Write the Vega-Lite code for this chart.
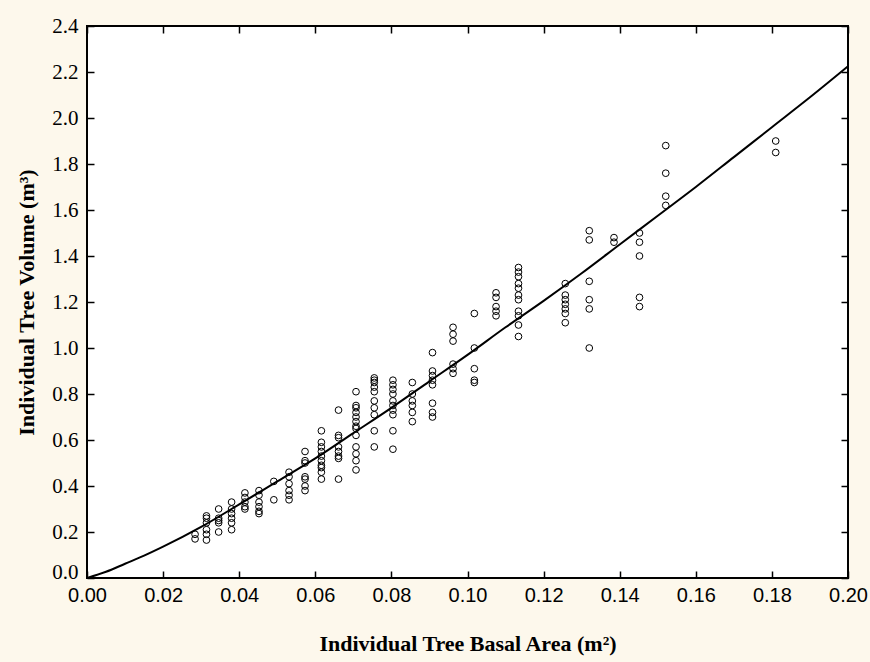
{
  "$schema": "https://vega.github.io/schema/vega-lite/v6.json",
  "width": 761,
  "height": 552,
  "autosize": "none",
  "padding": {"left": 87, "top": 26, "right": 22, "bottom": 84},
  "background": "#fdf8ec",
  "config": {
    "view": {"fill": "white", "stroke": "black", "strokeWidth": 2},
    "axis": {"domain": false, "grid": false, "tickColor": "black", "tickWidth": 1.5, "tickSize": -7, "labelColor": "black", "titleColor": "black"}
  },
  "datasets": {
    "trees": [
      {"ba":0.0284,"vol":0.17},{"ba":0.0284,"vol":0.19},
      {"ba":0.0314,"vol":0.27},{"ba":0.0314,"vol":0.26},{"ba":0.0314,"vol":0.24},{"ba":0.0314,"vol":0.21},{"ba":0.0314,"vol":0.19},{"ba":0.0314,"vol":0.165},
      {"ba":0.0346,"vol":0.30},{"ba":0.0346,"vol":0.26},{"ba":0.0346,"vol":0.25},{"ba":0.0346,"vol":0.24},{"ba":0.0346,"vol":0.20},
      {"ba":0.0380,"vol":0.33},{"ba":0.0380,"vol":0.30},{"ba":0.0380,"vol":0.28},{"ba":0.0380,"vol":0.26},{"ba":0.0380,"vol":0.24},{"ba":0.0380,"vol":0.21},
      {"ba":0.0415,"vol":0.37},{"ba":0.0415,"vol":0.35},{"ba":0.0415,"vol":0.33},{"ba":0.0415,"vol":0.31},{"ba":0.0415,"vol":0.30},
      {"ba":0.0452,"vol":0.38},{"ba":0.0452,"vol":0.36},{"ba":0.0452,"vol":0.33},{"ba":0.0452,"vol":0.31},{"ba":0.0452,"vol":0.29},{"ba":0.0452,"vol":0.28},
      {"ba":0.0491,"vol":0.42},{"ba":0.0491,"vol":0.34},
      {"ba":0.0531,"vol":0.46},{"ba":0.0531,"vol":0.44},{"ba":0.0531,"vol":0.41},{"ba":0.0531,"vol":0.38},{"ba":0.0531,"vol":0.36},{"ba":0.0531,"vol":0.34},
      {"ba":0.0573,"vol":0.55},{"ba":0.0573,"vol":0.51},{"ba":0.0573,"vol":0.50},{"ba":0.0573,"vol":0.44},{"ba":0.0573,"vol":0.43},{"ba":0.0573,"vol":0.40},{"ba":0.0573,"vol":0.38},
      {"ba":0.0616,"vol":0.64},{"ba":0.0616,"vol":0.59},{"ba":0.0616,"vol":0.57},{"ba":0.0616,"vol":0.55},{"ba":0.0616,"vol":0.53},{"ba":0.0616,"vol":0.51},{"ba":0.0616,"vol":0.49},{"ba":0.0616,"vol":0.48},{"ba":0.0616,"vol":0.46},{"ba":0.0616,"vol":0.43},
      {"ba":0.0661,"vol":0.73},{"ba":0.0661,"vol":0.62},{"ba":0.0661,"vol":0.61},{"ba":0.0661,"vol":0.57},{"ba":0.0661,"vol":0.55},{"ba":0.0661,"vol":0.53},{"ba":0.0661,"vol":0.52},{"ba":0.0661,"vol":0.43},
      {"ba":0.0707,"vol":0.81},{"ba":0.0707,"vol":0.75},{"ba":0.0707,"vol":0.74},{"ba":0.0707,"vol":0.72},{"ba":0.0707,"vol":0.70},{"ba":0.0707,"vol":0.68},{"ba":0.0707,"vol":0.66},{"ba":0.0707,"vol":0.65},{"ba":0.0707,"vol":0.62},{"ba":0.0707,"vol":0.57},{"ba":0.0707,"vol":0.54},{"ba":0.0707,"vol":0.51},{"ba":0.0707,"vol":0.47},
      {"ba":0.0755,"vol":0.87},{"ba":0.0755,"vol":0.86},{"ba":0.0755,"vol":0.85},{"ba":0.0755,"vol":0.83},{"ba":0.0755,"vol":0.81},{"ba":0.0755,"vol":0.77},{"ba":0.0755,"vol":0.74},{"ba":0.0755,"vol":0.71},{"ba":0.0755,"vol":0.64},{"ba":0.0755,"vol":0.57},
      {"ba":0.0804,"vol":0.86},{"ba":0.0804,"vol":0.84},{"ba":0.0804,"vol":0.82},{"ba":0.0804,"vol":0.80},{"ba":0.0804,"vol":0.77},{"ba":0.0804,"vol":0.75},{"ba":0.0804,"vol":0.73},{"ba":0.0804,"vol":0.71},{"ba":0.0804,"vol":0.64},{"ba":0.0804,"vol":0.56},
      {"ba":0.0855,"vol":0.85},{"ba":0.0855,"vol":0.80},{"ba":0.0855,"vol":0.77},{"ba":0.0855,"vol":0.75},{"ba":0.0855,"vol":0.72},{"ba":0.0855,"vol":0.68},
      {"ba":0.0908,"vol":0.98},{"ba":0.0908,"vol":0.90},{"ba":0.0908,"vol":0.88},{"ba":0.0908,"vol":0.86},{"ba":0.0908,"vol":0.84},{"ba":0.0908,"vol":0.76},{"ba":0.0908,"vol":0.72},{"ba":0.0908,"vol":0.70},
      {"ba":0.0962,"vol":1.09},{"ba":0.0962,"vol":1.06},{"ba":0.0962,"vol":1.03},{"ba":0.0962,"vol":0.93},{"ba":0.0962,"vol":0.91},{"ba":0.0962,"vol":0.89},
      {"ba":0.1018,"vol":1.15},{"ba":0.1018,"vol":1.00},{"ba":0.1018,"vol":0.91},{"ba":0.1018,"vol":0.86},{"ba":0.1018,"vol":0.85},
      {"ba":0.1075,"vol":1.24},{"ba":0.1075,"vol":1.22},{"ba":0.1075,"vol":1.18},{"ba":0.1075,"vol":1.16},{"ba":0.1075,"vol":1.14},
      {"ba":0.1134,"vol":1.35},{"ba":0.1134,"vol":1.33},{"ba":0.1134,"vol":1.31},{"ba":0.1134,"vol":1.28},{"ba":0.1134,"vol":1.26},{"ba":0.1134,"vol":1.23},{"ba":0.1134,"vol":1.21},{"ba":0.1134,"vol":1.16},{"ba":0.1134,"vol":1.14},{"ba":0.1134,"vol":1.10},{"ba":0.1134,"vol":1.05},
      {"ba":0.1257,"vol":1.28},{"ba":0.1257,"vol":1.23},{"ba":0.1257,"vol":1.21},{"ba":0.1257,"vol":1.19},{"ba":0.1257,"vol":1.17},{"ba":0.1257,"vol":1.15},{"ba":0.1257,"vol":1.11},
      {"ba":0.1320,"vol":1.51},{"ba":0.1320,"vol":1.47},{"ba":0.1320,"vol":1.29},{"ba":0.1320,"vol":1.21},{"ba":0.1320,"vol":1.17},{"ba":0.1320,"vol":1.00},
      {"ba":0.1385,"vol":1.48},{"ba":0.1385,"vol":1.46},
      {"ba":0.1452,"vol":1.50},{"ba":0.1452,"vol":1.46},{"ba":0.1452,"vol":1.40},{"ba":0.1452,"vol":1.22},{"ba":0.1452,"vol":1.18},
      {"ba":0.1521,"vol":1.88},{"ba":0.1521,"vol":1.76},{"ba":0.1521,"vol":1.66},{"ba":0.1521,"vol":1.62},
      {"ba":0.1810,"vol":1.90},{"ba":0.1810,"vol":1.85}
    ],
    "fit": [
      {"ba":0.00,"vol":0.00},{"ba":0.005,"vol":0.027},{"ba":0.01,"vol":0.062},{"ba":0.015,"vol":0.097},{"ba":0.02,"vol":0.136},{"ba":0.03,"vol":0.222},{"ba":0.04,"vol":0.32},
      {"ba":0.05,"vol":0.42},{"ba":0.06,"vol":0.52},{"ba":0.07,"vol":0.63},{"ba":0.08,"vol":0.74},{"ba":0.09,"vol":0.855},
      {"ba":0.10,"vol":0.97},{"ba":0.11,"vol":1.09},{"ba":0.12,"vol":1.205},{"ba":0.13,"vol":1.325},{"ba":0.14,"vol":1.45},
      {"ba":0.15,"vol":1.575},{"ba":0.16,"vol":1.70},{"ba":0.17,"vol":1.83},{"ba":0.18,"vol":1.96},{"ba":0.19,"vol":2.09},{"ba":0.20,"vol":2.225}
    ]
  },
  "resolve": {"axis": {"x": "independent", "y": "independent"}},
  "layer": [
    {
      "data": {"name": "fit"},
      "mark": {"type": "line", "color": "black", "strokeWidth": 2, "clip": true, "interpolate": "monotone"},
      "encoding": {
        "x": {"field": "ba", "type": "quantitative", "scale": {"domain": [0, 0.2], "nice": false, "zero": false},
              "axis": {"orient": "top", "labels": false, "title": null, "values": [0,0.02,0.04,0.06,0.08,0.1,0.12,0.14,0.16,0.18,0.2]}},
        "y": {"field": "vol", "type": "quantitative", "scale": {"domain": [0, 2.4], "nice": false, "zero": false},
              "axis": {"orient": "right", "labels": false, "title": null, "values": [0,0.2,0.4,0.6,0.8,1,1.2,1.4,1.6,1.8,2,2.2,2.4]}}
      }
    },
    {
      "data": {"name": "trees"},
      "mark": {"type": "point", "shape": "circle", "filled": false, "stroke": "black", "strokeWidth": 1, "size": 45, "opacity": 1},
      "encoding": {
        "x": {"field": "ba", "type": "quantitative",
              "axis": {"orient": "bottom", "format": ".2f", "values": [0,0.02,0.04,0.06,0.08,0.1,0.12,0.14,0.16,0.18,0.2],
                       "labelFont": "Liberation Sans", "labelFontSize": 20, "labelPadding": 14, "labelFlush": false, "labelOverlap": false,
                       "title": "Individual Tree Basal Area (m²)", "titleFont": "Liberation Serif", "titleFontSize": 22, "titleFontWeight": "bold", "titlePadding": 28}},
        "y": {"field": "vol", "type": "quantitative",
              "axis": {"orient": "left", "format": ".1f", "values": [0,0.2,0.4,0.6,0.8,1,1.2,1.4,1.6,1.8,2,2.2,2.4],
                       "labelFont": "Liberation Serif", "labelFontSize": 21, "labelPadding": 16, "labelFlush": false, "labelOverlap": false,
                       "labelOffset": {"condition": {"test": "datum.value == 0", "value": -6}, "value": 0},
                       "title": "Individual Tree Volume (m³)", "titleFont": "Liberation Serif", "titleFontSize": 22, "titleFontWeight": "bold", "titlePadding": 13}}
      }
    }
  ]
}
